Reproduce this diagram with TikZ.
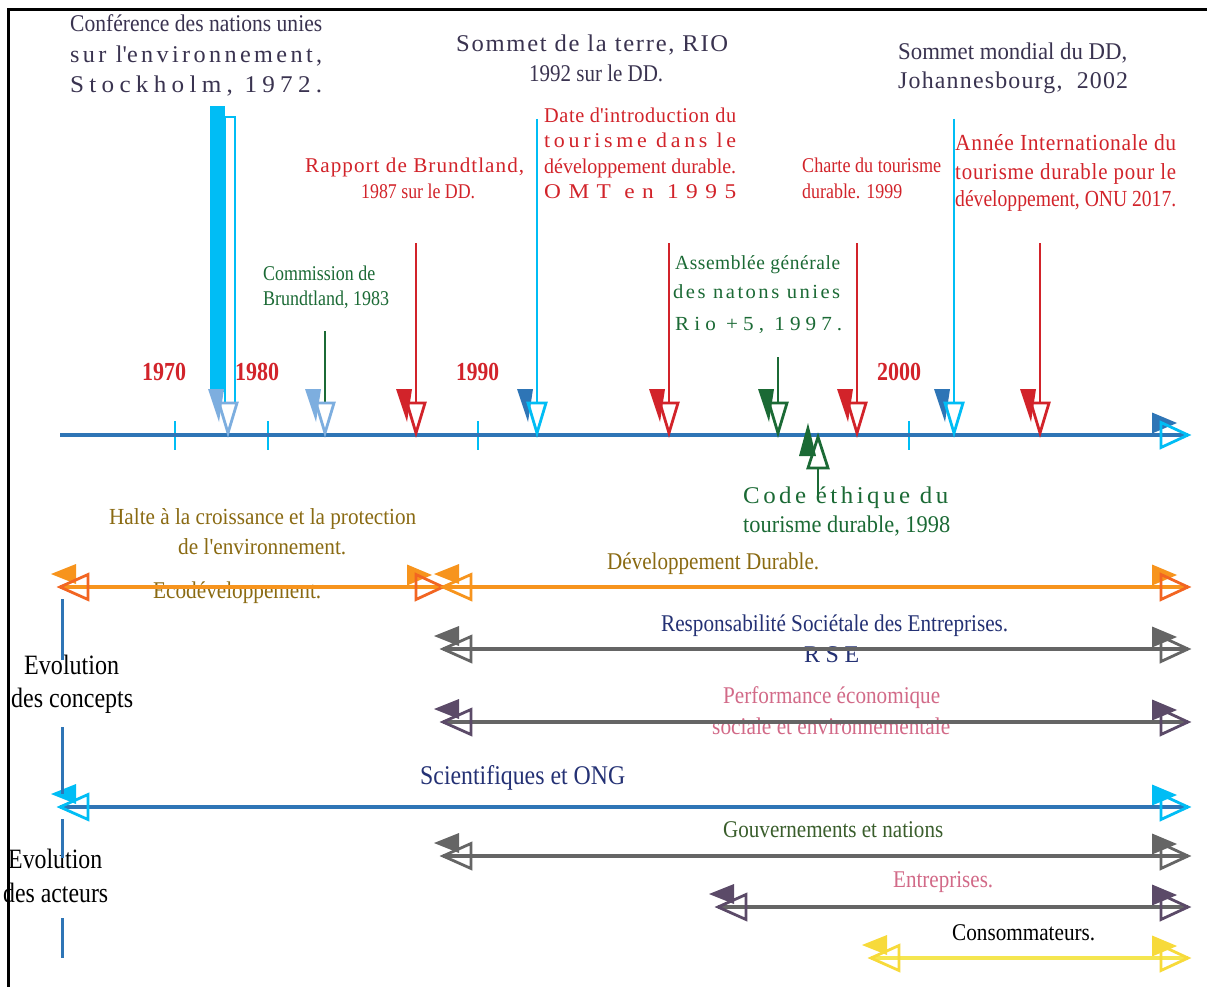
\documentclass[tikz,border=0pt]{standalone}
\usepackage{fontspec}
\setmainfont{Liberation Serif}
\usepackage{graphicx}
\definecolor{axblue}{HTML}{2E75B6}
\definecolor{cyanx}{HTML}{00BDF5}
\definecolor{ltblue}{HTML}{7DAEDF}
\definecolor{redx}{HTML}{D2232A}
\definecolor{grn}{HTML}{1B6A35}
\definecolor{orng}{HTML}{F7941D}
\definecolor{dorng}{HTML}{F26522}
\definecolor{gry}{HTML}{656565}
\definecolor{purp}{HTML}{5B4A68}
\definecolor{yel}{HTML}{F7DA3A}
\definecolor{yelline}{HTML}{F5E650}
\definecolor{dktxt}{HTML}{3A3350}
\definecolor{olive}{HTML}{8A6A12}
\definecolor{navy}{HTML}{243174}
\definecolor{pinkx}{HTML}{D26A88}
\definecolor{gvt}{HTML}{3A5E2C}
\newcommand{\fitw}[2]{\resizebox{#1pt}{\height}{#2}}
\newcommand{\lsp}[1]{\addfontfeature{LetterSpace=#1}}
\newcommand{\fsz}[1]{\fontsize{#1}{#1}\selectfont}
\newcommand{\apo}{\textquotesingle}
% down event arrow: #1 name, #2 x, #3 top y, #4 shaft colour, #5 fill, #6 open
\newcommand{\evt}[6]{%
  \fill[#5] (#2-20,389) -- (#2-4,389) -- (#2-9,422) -- cycle;
  \coordinate (#1a) at (#2,#3); \coordinate (#1b) at (#2,403);
  \draw[#4, shaftln] (#1a) -- (#1b);
  \draw[#6, hd] (#2-9,403) -- (#2+9,403) -- (#2,433) -- cycle;}
% double headed span: #1 name, #2 y, #3 x0, #4 x1, #5 line, #6 lfill, #7 lopen, #8 rfill, #9 ropen
\newcommand{\spn}[9]{%
  \fill[#6] (#3-9,#2-13) -- (#3+16,#2-23) -- (#3+16,#2-3) -- cycle;
  \fill[#8] (#4-11,#2-12) -- (#4-36,#2-22.5) -- (#4-36,#2-1.5) -- cycle;
  \coordinate (#1a) at (#3,#2); \coordinate (#1b) at (#4,#2);
  \draw[#5, ln] (#1a) -- (#1b);
  \draw[#7, hd] (#3,#2) -- (#3+28,#2-12.5) -- (#3+28,#2+12.5) -- cycle;
  \draw[#9, hd] (#4,#2) -- (#4-27,#2-12.5) -- (#4-27,#2+12.5) -- cycle;}
\begin{document}
\begin{tikzpicture}[x=1pt,y=-1pt,
  txt/.style={anchor=base west, inner sep=0pt},
  hd/.style={line width=2.8pt, line join=miter},
  shaftln/.style={line width=2.8pt},
  ln/.style={line width=3.5pt},
  tick/.style={cyanx, line width=2.6pt},
  seg/.style={axblue, line width=3pt}]
\useasboundingbox (0,0) rectangle (1207,987);
\fill[white] (0,0) rectangle (1207,987);
% frame
\coordinate (fr1) at (8,987); \coordinate (fr2) at (8,10); \coordinate (fr3) at (1207,10);
\draw[line width=3pt] (fr1) -- (fr2) -- (fr3);

% ---------------- top texts
\node[txt,text=dktxt,font=\fsz{24}] (n1) at (70,32) {\fitw{252}{Conférence des nations unies}};
\node[txt,text=dktxt,font=\fsz{24}] (n2) at (70,63) {\fitw{252}{\lsp{14}sur l\apo environnement,}};
\node[txt,text=dktxt,font=\fsz{24}] (n3) at (70,93) {\fitw{252}{\lsp{21}Stockholm, 1972.}};
\node[txt,text=dktxt,font=\fsz{24}] (n4) at (456,52) {\fitw{272}{\lsp{7}Sommet de la terre, RIO}};
\node[txt,text=dktxt,font=\fsz{24}] (n5) at (529,82) {\fitw{134}{1992 sur le DD.}};
\node[txt,text=dktxt,font=\fsz{24}] (n6) at (898,60) {\fitw{229}{Sommet mondial du DD,}};
\node[txt,text=dktxt,font=\fsz{24}] (n7) at (898,89) {\fitw{230}{\lsp{5}Johannesbourg,\ \ 2002}};

\node[txt,text=redx,font=\fsz{21}] (r1) at (544,123) {\fitw{192}{\lsp{3}Date d\apo introduction du}};
\node[txt,text=redx,font=\fsz{21}] (r2) at (544,148) {\fitw{192}{\lsp{17}tourisme dans le}};
\node[txt,text=redx,font=\fsz{21}] (r3) at (544,174) {\fitw{192}{développement durable.}};
\node[txt,text=redx,font=\fsz{21}] (r4) at (544,199) {\fitw{192}{\lsp{32}OMT en 1995}};
\node[txt,text=redx,font=\fsz{21}] (r5) at (305,173) {\fitw{219}{\lsp{5}Rapport de Brundtland,}};
\node[txt,text=redx,font=\fsz{21}] (r6) at (361,199) {\fitw{114}{1987 sur le DD.}};
\node[txt,text=grn,font=\fsz{21}] (c1) at (263,280) {\fitw{112}{Commission de}};
\node[txt,text=grn,font=\fsz{21}] (c2) at (263,305) {\fitw{126}{Brundtland, 1983}};
\node[txt,text=grn,font=\fsz{20}] (a1) at (675,269) {\fitw{165}{\lsp{3}Assemblée générale}};
\node[txt,text=grn,font=\fsz{20}] (a2) at (673,298) {\fitw{167}{\lsp{12}des natons unies}};
\node[txt,text=grn,font=\fsz{20}] (a3) at (675,330) {\fitw{167}{\lsp{24}Rio +5, 1997.}};
\node[txt,text=redx,font=\fsz{21}] (h1) at (802,173) {\fitw{139}{Charte du tourisme}};
\node[txt,text=redx,font=\fsz{21}] (h2) at (802,199) {\fitw{100}{durable. 1999}};
\node[txt,text=redx,font=\fsz{23}] (i1) at (955,151) {\fitw{221}{\lsp{3}Année Internationale du}};
\node[txt,text=redx,font=\fsz{23}] (i2) at (955,180) {\fitw{221}{\lsp{4}tourisme durable pour le}};
\node[txt,text=redx,font=\fsz{23}] (i3) at (955,207) {\fitw{221}{développement, ONU 2017.}};

% years
\node[txt,text=redx,font=\fsz{26}\bfseries] (y70) at (142,380) {\fitw{44}{1970}};
\node[txt,text=redx,font=\fsz{26}\bfseries] (y80) at (235,380) {\fitw{44}{1980}};
\node[txt,text=redx,font=\fsz{26}\bfseries] (y90) at (456,380) {\fitw{43}{1990}};
\node[txt,text=redx,font=\fsz{26}\bfseries] (y00) at (877,380) {\fitw{44}{2000}};

% bottom texts
\node[txt,text=grn,font=\fsz{24}] (k1) at (743,503) {\fitw{205}{\lsp{14}Code éthique du}};
\node[txt,text=grn,font=\fsz{24}] (k2) at (743,532) {\fitw{207}{tourisme durable, 1998}};
\node[txt,text=olive,font=\fsz{23}] (b1) at (109,524) {\fitw{307}{Halte à la croissance et la protection}};
\node[txt,text=olive,font=\fsz{23}] (b2) at (178,554) {\fitw{168}{de l\apo environnement.}};
\node[txt,text=olive,font=\fsz{24}] (b3) at (153,598) {\fitw{168}{Ecodéveloppement.}};
\node[txt,text=olive,font=\fsz{24}] (b4) at (607,569) {\fitw{212}{Développement Durable.}};
\node[txt,text=navy,font=\fsz{24}] (b5) at (661,631) {\fitw{347}{Responsabilité Sociétale des Entreprises.}};
\node[txt,text=navy,font=\fsz{24}] (b6) at (804,662) {\fitw{55}{\lsp{23}RSE}};
\node[txt,text=pinkx,font=\fsz{24}] (b7) at (723,703) {\fitw{217}{Performance économique}};
\node[txt,text=pinkx,font=\fsz{24}] (b8) at (712,734) {\fitw{238}{sociale et environnementale}};
\node[txt,text=navy,font=\fsz{27}] (b9) at (420,784) {\fitw{205}{Scientifiques et ONG}};
\node[txt,text=gvt,font=\fsz{24}] (b10) at (723,837) {\fitw{220}{Gouvernements et nations}};
\node[txt,text=pinkx,font=\fsz{24}] (b11) at (893,887) {\fitw{100}{Entreprises.}};
\node[txt,text=black,font=\fsz{24}] (b12) at (952,940) {\fitw{143}{Consommateurs.}};
\node[txt,text=black,font=\fsz{28}] (e1) at (24,674) {\fitw{95}{Evolution}};
\node[txt,text=black,font=\fsz{28}] (e2) at (11,707) {\fitw{122}{des concepts}};
\node[txt,text=black,font=\fsz{28}] (e3) at (8,868) {\fitw{94}{Evolution}};
\node[txt,text=black,font=\fsz{28}] (e4) at (3,902) {\fitw{105}{des acteurs}};

% ---------------- ticks and axis
\foreach \tx [count=\i] in {175,268,478,909}{
  \coordinate (tk\i a) at (\tx,421); \coordinate (tk\i b) at (\tx,450);
  \draw[tick] (tk\i a) -- (tk\i b);}
\fill[axblue] (1177,423) -- (1152,412.5) -- (1152,433.5) -- cycle;
\coordinate (ax0) at (60,435); \coordinate (ax1) at (1188,435);
\draw[axblue, line width=4pt] (ax0) -- (ax1);
\draw[cyanx, hd] (1188,435) -- (1161,422.5) -- (1161,447.5) -- cycle;

% ---------------- events
% Stockholm 1972 (block arrow)
\fill[cyanx] (210,106) rectangle (225,392);
\fill[ltblue] (208,389) -- (224,389) -- (219,422) -- cycle;
\coordinate (s1) at (225,403); \coordinate (s2) at (225,117);
\coordinate (s3) at (235,117); \coordinate (s4) at (235,403);
\draw[cyanx, line width=2.6pt] (s1) -- (s2) -- (s3) -- (s4);
\draw[ltblue, hd] (219,403) -- (237,403) -- (228,433) -- cycle;

\evt{ev2}{325}{331}{grn}{ltblue}{ltblue}
\evt{ev3}{416}{243}{redx}{redx}{redx}
\evt{ev4}{537}{119}{cyanx}{axblue}{cyanx}
\evt{ev5}{669}{243}{redx}{redx}{redx}
\evt{ev6}{778}{357}{grn}{grn}{grn}
\evt{ev7}{857}{243}{redx}{redx}{redx}
\evt{ev8}{954}{119}{cyanx}{axblue}{cyanx}
\evt{ev9}{1040}{243}{redx}{redx}{redx}

% Code ethique (up arrow)
\fill[grn] (799,456) -- (816,456) -- (808,423) -- cycle;
\coordinate (ce1) at (818,468); \coordinate (ce2) at (818,500);
\draw[grn, shaftln] (ce1) -- (ce2);
\draw[grn, hd] (808,468) -- (828,468) -- (818,437) -- cycle;

% ---------------- spans
\spn{eco}{587}{60}{443}{orng}{orng}{dorng}{orng}{dorng}
\spn{dd}{587}{443}{1188}{orng}{orng}{orng}{orng}{dorng}
\spn{rse}{649}{443}{1188}{gry}{gry}{gry}{gry}{gry}
\spn{perf}{722}{443}{1188}{gry}{purp}{purp}{purp}{purp}
\spn{sci}{807}{60}{1188}{axblue}{cyanx}{cyanx}{cyanx}{cyanx}
\spn{gov}{856}{443}{1188}{gry}{gry}{gry}{gry}{gry}
\spn{ent}{907}{718}{1188}{gry}{purp}{purp}{purp}{purp}
\spn{con}{958}{871}{1188}{yelline}{yel}{yel}{yel}{yel}

% left vertical segments
\foreach \ya/\yb [count=\i] in {599/660, 727/794, 819/858, 918/958}{
  \coordinate (vs\i a) at (62,\ya); \coordinate (vs\i b) at (62,\yb);
  \draw[seg] (vs\i a) -- (vs\i b);}
\end{tikzpicture}
\end{document}
